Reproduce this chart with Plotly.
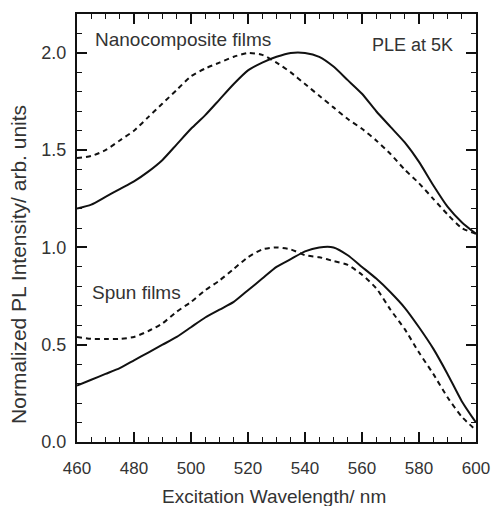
import plotly.graph_objects as go

wavelength = [460, 465, 470, 475, 480, 485, 490, 495, 500, 505, 510, 515, 520, 525, 530,
              535, 540, 545, 550, 555, 560, 565, 570, 575, 580, 585, 590, 595, 600]

nano_solid = [1.20, 1.22, 1.26, 1.30, 1.34, 1.39, 1.45, 1.53, 1.61, 1.68, 1.76, 1.84, 1.91, 1.95, 1.98,
              2.00, 2.00, 1.98, 1.93, 1.86, 1.79, 1.70, 1.62, 1.54, 1.44, 1.32, 1.21, 1.13, 1.07]
nano_dashed = [1.46, 1.47, 1.50, 1.55, 1.60, 1.67, 1.74, 1.81, 1.88, 1.92, 1.95, 1.98, 2.00, 1.99, 1.95,
               1.90, 1.84, 1.78, 1.72, 1.66, 1.61, 1.55, 1.48, 1.40, 1.33, 1.25, 1.17, 1.10, 1.07]
spun_solid = [0.29, 0.32, 0.35, 0.38, 0.42, 0.46, 0.50, 0.54, 0.59, 0.64, 0.68, 0.72, 0.78, 0.84, 0.90,
              0.94, 0.98, 1.00, 1.00, 0.96, 0.90, 0.84, 0.77, 0.69, 0.59, 0.48, 0.35, 0.21, 0.10]
spun_dashed = [0.54, 0.53, 0.53, 0.53, 0.54, 0.57, 0.61, 0.67, 0.72, 0.78, 0.83, 0.89, 0.95, 0.99, 1.00,
               0.99, 0.96, 0.95, 0.93, 0.91, 0.86, 0.79, 0.68, 0.58, 0.46, 0.35, 0.23, 0.13, 0.06]

x_ticks = [460, 480, 500, 520, 540, 560, 580, 600]
y_ticks = [0.0, 0.5, 1.0, 1.5, 2.0]
y_tick_labels = ["0.0", "0.5", "1.0", "1.5", "2.0"]

FONT = "Liberation Sans, Arial, sans-serif"
TXT = "#333333"
INK = "#111111"

fig = go.Figure()
for ys, dash in [(nano_solid, "solid"), (nano_dashed, "5px,4px"),
                 (spun_solid, "solid"), (spun_dashed, "5px,4px")]:
    fig.add_trace(go.Scatter(x=wavelength, y=ys, mode="lines",
                             line=dict(color=INK, width=2, dash=dash,
                                       shape="spline", smoothing=0.6),
                             showlegend=False, hoverinfo="skip"))

axis_common = dict(showline=True, linecolor=INK, linewidth=2, mirror="ticks",
                   ticks="inside", ticklen=10, tickwidth=1.5, tickcolor=INK,
                   showgrid=False, zeroline=False, automargin=False)

fig.update_xaxes(range=[460, 600], tickvals=x_ticks, ticklabelstandoff=10,
                 tickfont=dict(family=FONT, size=17, color=TXT),
                 minor=dict(dtick=5, ticks="inside", ticklen=5, tickcolor=INK, tickwidth=1),
                 **axis_common)
fig.update_yaxes(range=[0, 2.2], tickvals=y_ticks, ticktext=y_tick_labels, ticklabelstandoff=5,
                 tickfont=dict(family=FONT, size=18, color=TXT),
                 minor=dict(dtick=0.1, ticks="inside", ticklen=5, tickcolor=INK, tickwidth=1),
                 **axis_common)

# axis titles
fig.add_annotation(xref="paper", yref="paper", x=0.4925, y=-0.128, text="Excitation Wavelength/ nm",
                   showarrow=False, xanchor="center", yanchor="middle",
                   font=dict(family=FONT, size=19, color=TXT))
fig.add_annotation(xref="paper", yref="paper", x=-0.1454, y=0.416,
                   text="Normalized PL Intensity/ arb. units", textangle=-90,
                   showarrow=False, xanchor="center", yanchor="middle",
                   font=dict(family=FONT, size=21, color=TXT))

# in-plot labels
fig.add_annotation(x=465.6, y=2.069, text="Nanocomposite films", showarrow=False,
                   xanchor="left", yanchor="middle", font=dict(family=FONT, size=19, color=TXT))
fig.add_annotation(x=592.6, y=2.039, text="PLE at 5K", showarrow=False,
                   xanchor="right", yanchor="middle", font=dict(family=FONT, size=18, color=TXT))
fig.add_annotation(x=464.6, y=0.766, text="Spun films", showarrow=False,
                   xanchor="left", yanchor="middle", font=dict(family=FONT, size=19, color=TXT))

fig.update_layout(width=492, height=506, margin=dict(l=77, r=16, t=14, b=64, autoexpand=False),
                  plot_bgcolor="white", paper_bgcolor="white")

fig.write_html("out.html", config={"displayModeBar": False},
               post_script="document.body.style.margin='0';")
